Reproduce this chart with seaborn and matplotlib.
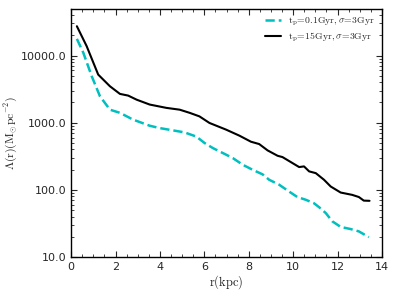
import numpy as np
import pandas as pd
import matplotlib
matplotlib.use("Agg")
import matplotlib.pyplot as plt
from matplotlib.ticker import FuncFormatter, MultipleLocator, LogLocator
import seaborn as sns

sns.set_style("ticks")
plt.rcParams["mathtext.fontset"] = "cm"
plt.rcParams["font.family"] = ["DejaVu Sans"]

# curva t_p = 0.1 Gyr (tracejada, ciano)
r_young = [0.26, 0.55, 0.93, 1.3, 1.75, 2.2, 2.79, 3.54, 3.99, 4.59, 5.11, 5.64,
           6.01, 6.38, 6.83, 7.28, 7.73, 8.17, 8.62, 8.92, 9.37, 9.82, 10.19,
           10.57, 10.94, 11.17, 11.47, 11.76, 12.14, 12.59, 12.96, 13.41]
sig_young = [17700, 11000, 4900, 2470, 1560, 1400, 1110, 900, 830, 767, 716, 620,
             498, 419, 353, 297, 236, 199, 170, 141, 119, 94, 78,
             71, 63, 55, 45, 34, 28, 26, 24, 19.7]

# curva t_p = 15 Gyr (continua, preta)
r_old = [0.26, 0.70, 1.22, 1.75, 2.20, 2.57, 2.95, 3.54, 4.29, 4.89, 5.34, 5.78,
         6.23, 6.98, 7.58, 8.10, 8.47, 8.85, 9.30, 9.52, 9.97, 10.27, 10.49,
         10.72, 11.02, 11.39, 11.69, 12.14, 12.66, 12.96, 13.18, 13.44]
sig_old = [27300, 13800, 5200, 3480, 2680, 2530, 2200, 1860, 1660, 1560, 1400, 1240,
           990, 787, 640, 520, 480, 386, 321, 307, 250, 218, 223,
           188, 177, 141, 112, 91, 84, 78, 69, 68.5]

labels = [r"$\mathrm{t_p\!=\!0.1Gyr,\sigma\!=\!3Gyr}$",
          r"$\mathrm{t_p\!=\!15Gyr,\sigma\!=\!3Gyr}$"]

df = pd.concat([
    pd.DataFrame({"r": r_young, "sigma": sig_young, "modelo": labels[0]}),
    pd.DataFrame({"r": r_old, "sigma": sig_old, "modelo": labels[1]}),
])

fig = plt.figure(figsize=(3.95, 2.96), dpi=100)
ax = fig.add_axes([0.18, 0.132, 0.787, 0.839])

sns.lineplot(data=df[df["modelo"] == labels[0]], x="r", y="sigma", ax=ax,
             color="c", linewidth=1.8, linestyle="--", label=labels[0])
sns.lineplot(data=df[df["modelo"] == labels[1]], x="r", y="sigma", ax=ax,
             color="black", linewidth=1.5, label=labels[1])

ax.set_yscale("log")
ax.set_xlim(0, 14)
ax.set_ylim(10, 5e4)
ax.xaxis.set_major_locator(MultipleLocator(2))
ax.xaxis.set_minor_locator(MultipleLocator(0.5))
ax.yaxis.set_minor_locator(LogLocator(base=10, subs=np.arange(2, 10)))
ax.yaxis.set_major_formatter(FuncFormatter(lambda v, p: "%.1f" % v))

ax.tick_params(which="both", direction="in", top=True, right=True, labelsize=8)
ax.tick_params(which="major", length=4, width=0.8)
ax.tick_params(which="minor", length=2, width=0.6)
for s in ax.spines.values():
    s.set_linewidth(1.0)
    s.set_color("black")

ax.set_xlabel(r"$\mathrm{r(kpc)}$", fontsize=9, labelpad=1)
ax.set_ylabel(r"$\Lambda(\mathrm{r})(\mathrm{M_{\odot}pc^{-2}})$", fontsize=8.5)
ax.yaxis.set_label_coords(-0.165, 0.5)

ax.legend(loc="upper right", frameon=False, fontsize=7, handlelength=1.6,
          borderaxespad=0.3, labelspacing=0.3)

fig.savefig("out.png", dpi=100)
